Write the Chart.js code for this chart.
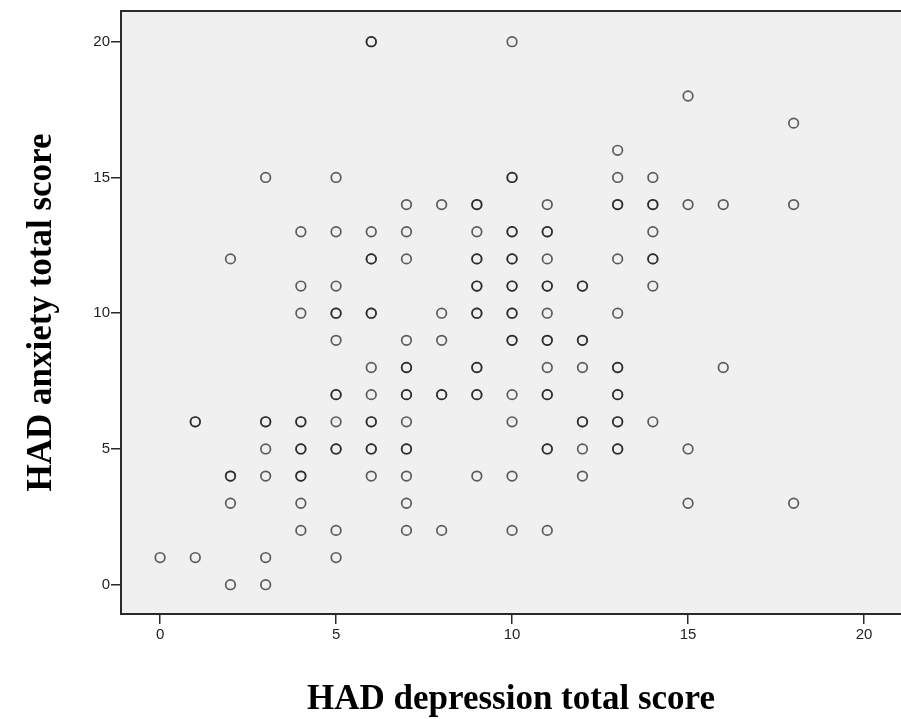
<!DOCTYPE html>
<html>
<head>
<meta charset="utf-8">
<script src="https://cdn.jsdelivr.net/npm/chart.js@4"></script>
<style>
  body { margin: 0; background: #ffffff; overflow: hidden; }
  canvas { display: block; }
</style>
</head>
<body>
<canvas id="grafico" width="901" height="719" style="width:901px;height:719px;"></canvas>
<script>
// HAD scores, one entry per case (overlapping cases show as darker circles)
const depression = [
  0,
  1, 1, 1,
  2, 2, 2, 2, 2,
  3, 3, 3, 3, 3, 3, 3,
  4, 4, 4, 4, 4, 4, 4, 4, 4, 4, 4,
  5, 5, 5, 5, 5, 5, 5, 5, 5, 5, 5, 5, 5,
  6, 6, 6, 6, 6, 6, 6, 6, 6, 6, 6, 6, 6, 6,
  7, 7, 7, 7, 7, 7, 7, 7, 7, 7, 7, 7, 7, 7,
  8, 8, 8, 8, 8, 8,
  9, 9, 9, 9, 9, 9, 9, 9, 9, 9, 9, 9, 9, 9,
  10, 10, 10, 10, 10, 10, 10, 10, 10, 10, 10, 10, 10, 10, 10, 10, 10,
  11, 11, 11, 11, 11, 11, 11, 11, 11, 11, 11, 11, 11, 11, 11,
  12, 12, 12, 12, 12, 12, 12, 12, 12,
  13, 13, 13, 13, 13, 13, 13, 13, 13, 13, 13, 13, 13, 13,
  14, 14, 14, 14, 14, 14, 14, 14,
  15, 15, 15, 15,
  16, 16,
  18, 18, 18
];
const anxiety = [
  1,
  6, 6, 1,
  12, 4, 4, 3, 0,
  15, 6, 6, 5, 4, 1, 0,
  13, 11, 10, 6, 6, 5, 5, 4, 4, 3, 2,
  15, 13, 11, 10, 10, 9, 7, 7, 6, 5, 5, 2, 1,
  20, 20, 13, 12, 12, 10, 10, 8, 7, 6, 6, 5, 5, 4,
  14, 13, 12, 9, 8, 8, 7, 7, 6, 5, 5, 4, 3, 2,
  14, 10, 9, 7, 7, 2,
  14, 14, 13, 12, 12, 11, 11, 10, 10, 8, 8, 7, 7, 4,
  20, 15, 15, 13, 13, 12, 12, 11, 11, 10, 10, 9, 9, 7, 6, 4, 2,
  14, 13, 13, 12, 11, 11, 10, 9, 9, 8, 7, 7, 5, 5, 2,
  11, 11, 9, 9, 8, 6, 6, 5, 4,
  16, 15, 14, 14, 12, 10, 8, 8, 7, 7, 6, 6, 5, 5,
  15, 14, 14, 13, 12, 12, 11, 6,
  18, 14, 5, 3,
  14, 8,
  17, 14, 3
];
const xTicks = [0, 5, 10, 15, 20];
const yTicks = [0, 5, 10, 15, 20];

const pontos = depression.map((d, i) => ({ x: d, y: anxiety[i] }));

// grey plot background with frame
const fundoGrafico = {
    id: 'fundoGrafico',
    beforeDraw(chart) {
        const { ctx, chartArea: a } = chart;
        ctx.save();
        ctx.fillStyle = '#f0f0f0';
        ctx.fillRect(a.left, a.top, a.right - a.left, a.bottom - a.top);
        ctx.strokeStyle = '#2a2a2a';
        ctx.lineWidth = 2;
        ctx.beginPath();
        ctx.moveTo(a.left, a.bottom);
        ctx.lineTo(a.left, a.top);
        ctx.lineTo(a.right, a.top);
        ctx.stroke();
        ctx.restore();
    }
};

const tickFont = { family: 'Liberation Sans, Arial, sans-serif', size: 15 };
const titleFont = { family: 'Liberation Serif, Times New Roman, serif', size: 35, weight: 'bold', lineHeight: 1 };

const ctx = document.getElementById('grafico').getContext('2d');
new Chart(ctx, {
    type: 'scatter',
    data: {
        datasets: [{
            data: pontos,
            pointStyle: 'circle',
            pointRadius: 4.8,
            pointHoverRadius: 4.8,
            pointBorderWidth: 1.7,
            borderColor: 'rgba(25, 25, 25, 0.7)',
            backgroundColor: 'rgba(0, 0, 0, 0)'
        }]
    },
    plugins: [fundoGrafico],
    options: {
        responsive: false,
        animation: false,
        layout: { autoPadding: false, padding: { top: 11, right: 0, bottom: 0, left: 0 } },
        plugins: {
            legend: { display: false },
            tooltip: { enabled: false }
        },
        scales: {
            x: {
                type: 'linear',
                min: -1.11,
                max: 21.05,
                afterBuildTicks: s => { s.ticks = xTicks.map(v => ({ value: v })); },
                afterFit: s => { s.height = 105; s.paddingLeft = 0; s.paddingRight = 0; },
                grid: { drawOnChartArea: false, drawTicks: true, tickLength: 10, color: '#2a2a2a', lineWidth: 1.5 },
                border: { display: true, color: '#2a2a2a', width: 2 },
                ticks: { color: '#222', font: tickFont, padding: 2, maxRotation: 0 },
                title: {
                    display: true,
                    text: 'HAD depression total score',
                    color: '#000',
                    font: titleFont,
                    padding: { top: 0, bottom: 1.5 }
                }
            },
            y: {
                type: 'linear',
                min: -1.08,
                max: 21.13,
                afterBuildTicks: s => { s.ticks = yTicks.map(v => ({ value: v })); },
                afterFit: s => { s.width = 121; s.paddingTop = 0; s.paddingBottom = 0; },
                grid: { drawOnChartArea: false, drawTicks: true, tickLength: 10, color: '#2a2a2a', lineWidth: 1.5 },
                border: { display: true, color: '#2a2a2a', width: 2 },
                ticks: { color: '#222', font: tickFont, padding: 1 },
                title: {
                    display: true,
                    text: 'HAD anxiety total score',
                    color: '#000',
                    font: titleFont,
                    padding: { top: 24, bottom: 0 }
                }
            }
        }
    }
});
</script>
</body>
</html>
